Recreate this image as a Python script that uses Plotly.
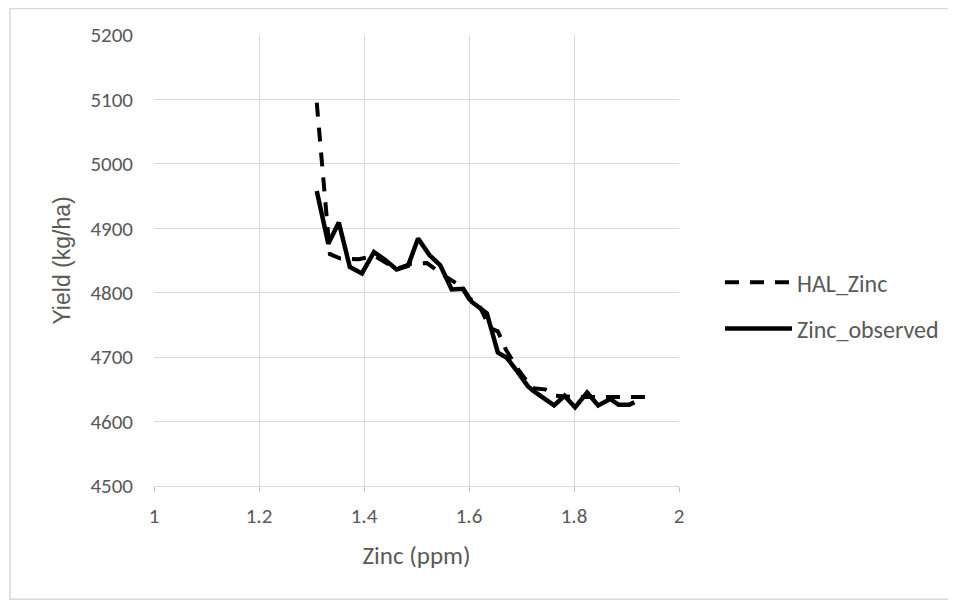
import plotly.graph_objects as go

# HAL_Zinc (dashed) series
hal_x = [1.310, 1.335, 1.355, 1.390, 1.420, 1.445, 1.465, 1.490, 1.520, 1.550, 1.585,
         1.600, 1.615, 1.625, 1.640, 1.655, 1.670, 1.690, 1.705, 1.720, 1.745, 1.765,
         1.800, 1.850, 1.935]
hal_y = [5095, 4860, 4853, 4852, 4857, 4845, 4838, 4845, 4846, 4828, 4810,
         4790, 4788, 4770, 4745, 4740, 4712, 4685, 4668, 4652, 4650, 4640,
         4638, 4638, 4638]

# Zinc_observed (solid) series
obs_x = [1.310, 1.332, 1.352, 1.373, 1.396, 1.419, 1.440, 1.462, 1.484, 1.503, 1.525,
         1.545, 1.567, 1.589, 1.605, 1.634, 1.655, 1.672, 1.690, 1.712, 1.722, 1.741,
         1.762, 1.782, 1.802, 1.825, 1.846, 1.869, 1.885, 1.905, 1.915]
obs_y = [4958, 4876, 4909, 4840, 4830, 4863, 4851, 4836, 4842, 4884, 4858,
         4843, 4805, 4806, 4786, 4768, 4707, 4699, 4680, 4655, 4648, 4638,
         4625, 4640, 4622, 4645, 4625, 4635, 4626, 4626, 4630]

x_ticks = [1, 1.2, 1.4, 1.6, 1.8, 2]
x_ticktext = ["1", "1.2", "1.4", "1.6", "1.8", "2"]
y_ticks = [4500, 4600, 4700, 4800, 4900, 5000, 5100, 5200]

FONT = "Carlito, Lato, sans-serif"
GRAY = "#595959"

# page body has an 8px margin, so the figure is offset by (8, 8)
W, H = 948, 597
ML, MT = 146, 27
PW, PH = 525, 451.5
MR = W - ML - PW
MB = H - MT - PH

fig = go.Figure()
fig.add_trace(go.Scatter(x=hal_x, y=hal_y, mode="lines", name="HAL_Zinc",
                         legendgroup="a",
                         line=dict(color="black", width=4, dash="14px,11px")))
fig.add_trace(go.Scatter(x=obs_x, y=obs_y, mode="lines", name="Zinc_observed",
                         legendgroup="b",
                         line=dict(color="black", width=4.5)))

fig.update_layout(
    width=W, height=H,
    paper_bgcolor="white", plot_bgcolor="white",
    margin=dict(l=ML, r=MR, t=MT, b=MB),
    font=dict(family=FONT, color=GRAY, size=20),
    showlegend=True,
    legend=dict(x=1.078, y=0.40, xanchor="left", yanchor="middle",
                font=dict(family=FONT, size=24, color=GRAY),
                itemwidth=67, tracegroupgap=12, bgcolor="rgba(0,0,0,0)"),
    xaxis=dict(range=[1, 2], tickvals=x_ticks, ticktext=x_ticktext,
               showgrid=True, gridcolor="#d9d9d9", gridwidth=1,
               showline=True, linecolor="#d9d9d9", linewidth=1,
               ticks="outside", ticklen=5, tickcolor="#bfbfbf",
               ticklabelstandoff=6,
               zeroline=False, tickfont=dict(size=21, color=GRAY),
               title=dict(text="Zinc (ppm)", font=dict(size=25, color=GRAY), standoff=18)),
    yaxis=dict(range=[4500, 5200], tickvals=y_ticks,
               showgrid=True, gridcolor="#d9d9d9", gridwidth=1,
               showline=False, zeroline=False, ticks="", ticklabelstandoff=20,
               tickfont=dict(size=21, color=GRAY),
               title=dict(text="Yield (kg/ha)",
                          font=dict(family="'Liberation Sans', Arial, sans-serif", size=23, color=GRAY),
                          standoff=13)),
    shapes=[dict(type="rect", xref="paper", yref="paper", layer="below",
                 x0=(2 - ML) / PW, x1=(942 - ML) / PW,
                 y0=-(592 - MT - PH) / PH, y1=(MT + PH - 0.5) / PH,
                 line=dict(color="#d9d9d9", width=1.5), fillcolor="rgba(0,0,0,0)")],
)

fig.write_html("out.html")
